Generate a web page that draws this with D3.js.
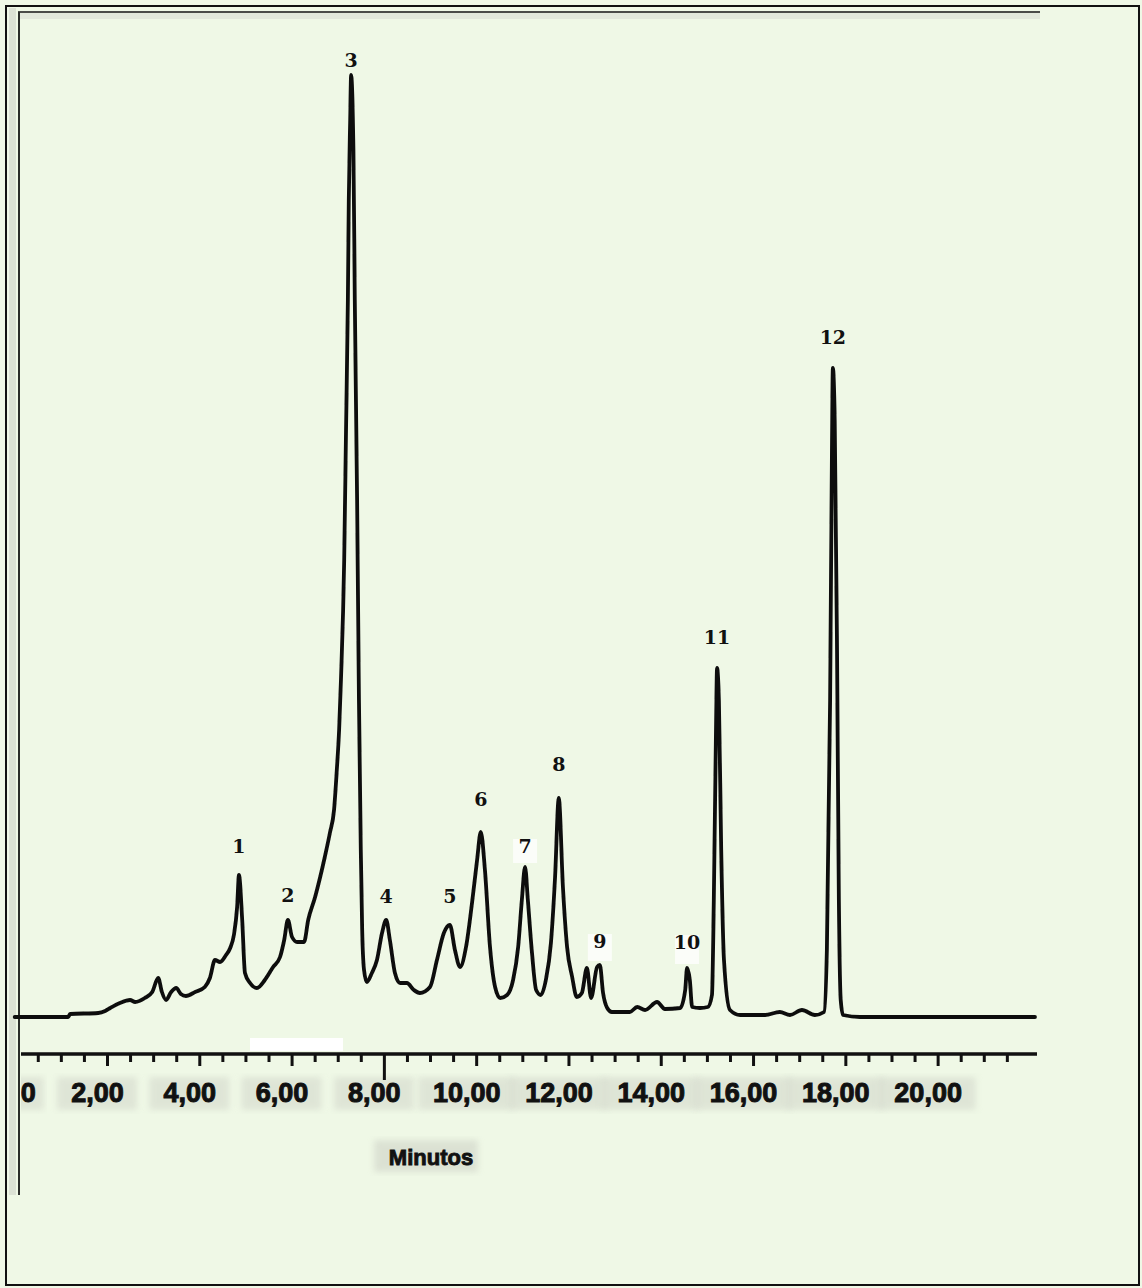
<!DOCTYPE html>
<html>
<head>
<meta charset="utf-8">
<script src="https://cdn.jsdelivr.net/npm/d3@7"></script>
<style>
  html, body { margin: 0; padding: 0; background: #eff8e6; }
  svg { display: block; }
</style>
</head>
<body>
<svg id="chart" width="1142" height="1288"></svg>
<script>
// Chromatogram trace: retention time (min) and detector signal (relative units)
const retentionTime = [
  0.00, 0.55, 1.16, 1.20, 1.81, 1.96, 2.07, 2.28, 2.50, 2.61, 2.82, 2.98, 3.11, 3.19, 3.28, 3.39,
  3.50, 3.60, 3.71, 3.91, 4.12, 4.23, 4.34, 4.45, 4.58, 4.67, 4.75, 4.82, 4.86, 4.93, 4.99, 5.10,
  5.25, 5.42, 5.60, 5.75, 5.84, 5.92, 6.01, 6.12, 6.27, 6.36, 6.51, 6.62, 6.72, 6.83, 6.92, 6.98,
  7.03, 7.07, 7.14, 7.18, 7.22, 7.24, 7.27, 7.29, 7.34, 7.37, 7.42, 7.46, 7.50, 7.53, 7.57, 7.63,
  7.74, 7.85, 7.96, 8.05, 8.13, 8.24, 8.35, 8.50, 8.65, 8.78, 9.00, 9.15, 9.30, 9.43, 9.54, 9.65,
  9.78, 9.91, 10.02, 10.10, 10.19, 10.30, 10.41, 10.52, 10.67, 10.80, 10.91, 10.99, 11.06, 11.12,
  11.21, 11.30, 11.40, 11.51, 11.62, 11.71, 11.79, 11.88, 11.97, 12.08, 12.18, 12.29, 12.40, 12.49,
  12.62, 12.68, 12.75, 12.84, 12.94, 13.33, 13.49, 13.66, 13.92, 14.09, 14.42, 14.53, 14.57, 14.63,
  14.68, 14.85, 15.02, 15.11, 15.15, 15.20, 15.22, 15.26, 15.31, 15.37, 15.50, 15.72, 16.26, 16.58,
  16.80, 17.06, 17.34, 17.54, 17.60, 17.67, 17.71, 17.73, 17.77, 17.82, 17.86, 17.90, 17.95, 18.32,
  22.11
];
const signal = [
  0.0, 0.0, 0.0, 0.3, 0.4, 0.6, 0.9, 1.4, 1.7, 1.5, 1.9, 2.5, 3.9, 2.5, 1.7, 2.5,
  2.9, 2.3, 2.1, 2.5, 3.0, 3.9, 5.7, 5.5, 6.2, 6.9, 8.2, 11.0, 14.2, 9.7, 4.4, 3.4,
  2.9, 3.7, 5.0, 6.0, 7.7, 9.7, 8.0, 7.5, 7.5, 9.7, 12.0, 14.0, 16.0, 18.4, 20.7, 24.7,
  28.7, 33.7, 45.7, 58.7, 71.7, 81.7, 89.7, 94.2, 86.7, 71.7, 51.7, 31.7, 16.7, 8.7, 4.7, 3.5,
  4.4, 5.7, 8.4, 9.7, 7.7, 4.4, 3.4, 3.4, 2.7, 2.4, 3.0, 5.7, 8.4, 9.2, 6.7, 5.0,
  7.0, 11.4, 15.7, 18.5, 14.7, 7.0, 3.0, 1.9, 2.2, 3.7, 7.0, 11.7, 15.0, 11.7,
  6.4, 2.7, 2.2, 3.7, 7.4, 14.0, 21.9, 13.0, 7.0, 4.0, 2.0, 2.4, 4.9, 1.9,
  5.0, 5.2, 2.4, 0.9, 0.5, 0.5, 1.0, 0.7, 1.5, 0.8, 0.9, 2.7, 4.9, 3.7,
  1.0, 0.9, 1.0, 2.2, 11.7, 29.7, 34.9, 31.7, 16.7, 5.7, 0.7, 0.2, 0.2, 0.5,
  0.2, 0.7, 0.2, 0.5, 6.7, 31.7, 56.7, 64.9, 59.7, 36.7, 11.7, 1.7, 0.2, 0.0,
  0.0
];

// Numbered peaks: apex time and apex signal
const peakNumbers = ["1", "2", "3", "4", "5", "6", "7", "8", "9", "10", "11", "12"];
const peakTimes   = [4.86, 5.92, 7.29, 8.05, 9.43, 10.10, 11.06, 11.79, 12.68, 14.57, 15.22, 17.73];
const peakSignals = [14.2, 9.7, 94.2, 9.7, 9.2, 18.5, 15.0, 21.9, 5.2, 4.9, 34.9, 64.9];

// Time axis
const majorTicks = [0, 2, 4, 6, 8, 10, 12, 14, 16, 18, 20];
const majorTickLabels = ["0", "2,00", "4,00", "6,00", "8,00", "10,00", "12,00", "14,00", "16,00", "18,00", "20,00"];
const axisTitle = "Minutos";

// ---- layout ----
const W = 1142, H = 1288;
const axisY = 1054;
const labelGap = [22, 18, 8, 17, 22, 26, 14, 27, 17, 19, 24, 24]; // px between apex and peak number
const labelShift = d => d === 0 ? 13 : -10;                      // horizontal nudge of tick labels

const svg = d3.select("#chart");

const x = d3.scaleLinear().domain([0, 22.11]).range([14.7, 1035]);
const y = d3.scaleLinear().domain([0, 100]).range([1017, 17]);

const defs = svg.append("defs");
defs.append("filter").attr("id", "soft")
  .append("feGaussianBlur").attr("stdDeviation", 0.4);
defs.append("filter").attr("id", "haze")
  .append("feGaussianBlur").attr("stdDeviation", 3);
defs.append("clipPath").attr("id", "plotClip")
  .append("rect").attr("x", 21).attr("y", 0).attr("width", W - 21).attr("height", H);

// background
svg.append("rect").attr("width", W).attr("height", H).attr("fill", "#eff8e6");

// frame: outer border and inner panel edges
svg.append("rect").attr("x", 9).attr("y", 8).attr("width", 7).attr("height", 1187)
  .attr("fill", "#d4d8cd").attr("opacity", 0.7);
svg.append("rect").attr("x", 18).attr("y", 13).attr("width", 1022).attr("height", 6)
  .attr("fill", "#dde2d5").attr("opacity", 0.7);
svg.append("line").attr("x1", 18).attr("x2", 1040).attr("y1", 12).attr("y2", 12)
  .attr("stroke", "#4a4d48").attr("stroke-width", 2);
svg.append("line").attr("x1", 19).attr("x2", 19).attr("y1", 12).attr("y2", 1195)
  .attr("stroke", "#2b2d2a").attr("stroke-width", 2);
svg.append("rect").attr("x", 6).attr("y", 6).attr("width", W - 9).attr("height", H - 9)
  .attr("fill", "none").attr("stroke", "#111").attr("stroke-width", 2);

// white strip above the axis
svg.append("rect").attr("x", 250).attr("y", 1038).attr("width", 93).attr("height", 13)
  .attr("fill", "#ffffff");

// soft grey boxes behind the tick labels and the axis title
const g = svg.append("g").attr("clip-path", "url(#plotClip)");
g.selectAll("rect.lblbox").data(majorTicks).join("rect")
  .attr("class", "lblbox")
  .attr("x", (d, i) => x(d) + labelShift(d) - (majorTickLabels[i].length * 8 + 8))
  .attr("width", (d, i) => 2 * (majorTickLabels[i].length * 8 + 8))
  .attr("y", 1077).attr("height", 33)
  .attr("fill", "#cfd3c7").attr("opacity", 0.5).attr("filter", "url(#haze)");
svg.append("rect").attr("x", 374).attr("y", 1140).attr("width", 104).attr("height", 32)
  .attr("fill", "#cfd3c7").attr("opacity", 0.6).attr("filter", "url(#haze)");

// time axis: minor ticks every 0.5 min, major ticks every 2 min
const minorTicks = d3.range(0.5, 21.6, 0.5).filter(t => t % 2 !== 0);
const minorAxis = d3.axisBottom(x).tickValues(minorTicks).tickSize(8).tickSizeOuter(0).tickFormat("");
const majorAxis = d3.axisBottom(x).tickValues(majorTicks).tickSize(12).tickSizeOuter(0)
  .tickFormat((d, i) => majorTickLabels[i]);

const axisG = g.append("g").attr("transform", `translate(0,${axisY})`);
axisG.append("g").call(minorAxis)
  .call(a => a.select(".domain").remove())
  .call(a => a.selectAll("line").attr("stroke", "#111").attr("stroke-width", 3));
axisG.append("g").call(majorAxis)
  .call(a => a.select(".domain").remove())
  .call(a => a.selectAll("line").attr("stroke", "#111").attr("stroke-width", 3)
    .attr("y2", d => d === 8 ? 26 : 12))
  .call(a => a.selectAll("text")
    .attr("dx", d => labelShift(d)).attr("y", 0).attr("dy", 0)
    .attr("transform", "translate(0,48)")
    .attr("font-family", "Liberation Sans, Arial, sans-serif")
    .attr("font-weight", "bold").attr("font-size", 27)
    .attr("fill", "#111").attr("stroke", "#111").attr("stroke-width", 1));
// axis line
axisG.append("line").attr("x1", 18).attr("x2", 1037).attr("y1", 0).attr("y2", 0)
  .attr("stroke", "#111").attr("stroke-width", 3.5);

// axis title
svg.append("text").attr("x", 431).attr("y", 1165).attr("text-anchor", "middle")
  .attr("font-family", "Liberation Sans, Arial, sans-serif").attr("font-weight", "bold")
  .attr("font-size", 22).attr("fill", "#111").attr("stroke", "#111").attr("stroke-width", 0.9)
  .text(axisTitle);

// white backing behind a few peak numbers
const backed = [6, 8, 9]; // indices of peaks 7, 9, 10
svg.selectAll("rect.lblback").data(backed).join("rect")
  .attr("class", "lblback")
  .attr("x", i => x(peakTimes[i]) - 12)
  .attr("y", i => y(peakSignals[i]) - labelGap[i] - 14)
  .attr("width", 24).attr("height", i => labelGap[i] + 10)
  .attr("fill", "#ffffff").attr("opacity", 0.75);

// chromatogram trace
const points = retentionTime.map((t, i) => [t, signal[i]]);
const line = d3.line().x(d => x(d[0])).y(d => y(d[1])).curve(d3.curveMonotoneX);
svg.append("path").datum(points)
  .attr("d", line)
  .attr("fill", "none").attr("stroke", "#0e0e0e").attr("stroke-width", 3.8)
  .attr("stroke-linejoin", "round").attr("stroke-linecap", "round")
  .attr("filter", "url(#soft)");

// peak numbers
svg.selectAll("text.peak").data(peakNumbers).join("text")
  .attr("class", "peak")
  .attr("x", (d, i) => x(peakTimes[i]))
  .attr("y", (d, i) => y(peakSignals[i]) - labelGap[i])
  .attr("text-anchor", "middle")
  .attr("font-family", "DejaVu Serif, serif").attr("font-weight", "bold")
  .attr("font-size", 19).attr("fill", "#111")
  .text(d => d);
</script>
</body>
</html>
